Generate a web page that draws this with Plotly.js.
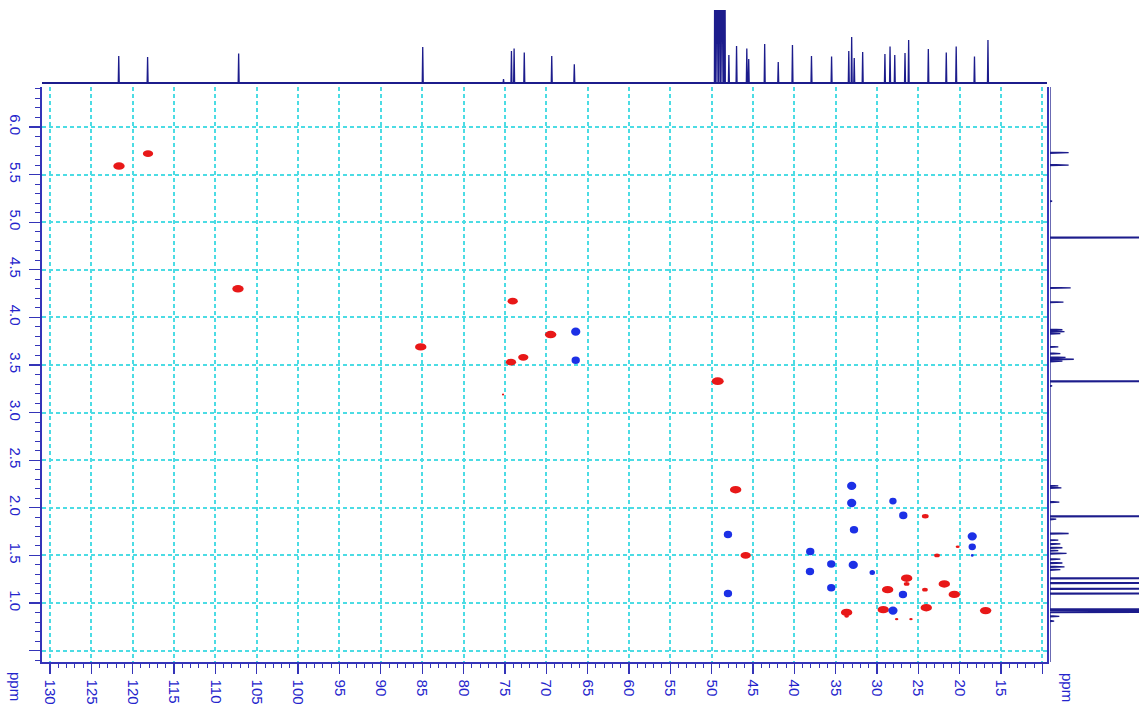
<!DOCTYPE html>
<html>
<head>
<meta charset="utf-8">
<script src="https://cdn.plot.ly/plotly-3.0.1.min.js"></script>
<style>html,body{margin:0;padding:0;background:#fff;}#plot{width:1139px;height:707px;}</style>
</head>
<body>
<div id="plot"></div>
<script>
// ---- 13C projection (top): peak positions (ppm) and heights (px-like units)
const C13_PPM = [121.69,118.20,107.19,84.93,75.16,74.20,73.88,72.65,69.33,66.6,
  49.6,49.4,49.2,49.0,48.8,48.6,48.4,
  47.91,46.98,45.74,45.51,43.58,41.94,40.22,37.92,35.49,33.41,33.06,32.75,31.73,
  29.04,28.42,27.85,26.61,26.17,23.79,21.62,20.42,18.21,16.58];
const C13_INT = [28,27,30.5,37,5,33,35.6,31.5,28,19.7,
  200,200,200,200,200,200,200,
  29,38,35.6,25,40,22,39,28,27.5,33,47,26,32,
  30,37.6,29,31,44,35,31.5,37.6,27.5,44];

// ---- 1H projection (right): positions (ppm) and heights
const H1_PPM = [5.73,5.60,5.22,4.84,4.31,4.16,3.87,3.85,3.83,3.69,3.62,3.58,3.56,3.54,3.33,3.28,
  2.23,2.21,2.06,1.91,1.88,1.73,1.66,1.62,1.58,1.55,1.52,1.46,1.42,1.38,1.35,
  1.26,1.21,1.15,1.10,0.935,0.92,0.905,0.86,0.81];
const H1_INT = [18,18,2,200,20,13,12,14,10,8,10,15,23,12,200,2,
  8,11,9,200,6,18,8,10,12,8,16,10,12,14,10,
  200,200,200,200,200,200,200,9,4];

// ---- HSQC cross peaks: positive phase (red)
const RED_C = [121.66,118.15,107.27,85.17,74.05,69.46,72.77,74.26,49.26,75.22,
  47.09,45.88,24.16,22.74,20.24,26.41,26.41,28.71,21.86,20.65,24.20,
  33.67,33.67,29.24,24.04,16.86,27.62,25.89];
const RED_H = [5.59,5.72,4.30,3.69,4.17,3.82,3.58,3.53,3.33,3.19,
  2.19,1.50,1.91,1.50,1.59,1.26,1.20,1.14,1.20,1.09,1.14,
  0.90,0.86,0.93,0.95,0.92,0.83,0.83];
const RED_I = [1,0.9,1,1,0.9,1,0.9,0.9,1.05,0.2,
  1,0.9,0.6,0.5,0.35,1,0.5,1,1,1,0.5,
  1,0.4,1,1,1,0.3,0.3];

// ---- HSQC cross peaks: negative phase (blue)
const BLUE_C = [66.43,66.43,33.06,33.06,28.07,26.82,32.78,48.02,18.48,18.48,
  38.07,35.53,32.87,38.10,30.57,35.53,48.02,26.86,28.07,18.48];
const BLUE_H = [3.85,3.55,2.23,2.05,2.07,1.92,1.77,1.72,1.70,1.59,
  1.54,1.41,1.40,1.33,1.32,1.16,1.10,1.09,0.92,1.50];
const BLUE_I = [1,0.9,1,1,0.8,0.9,0.9,0.9,1,0.8,
  0.9,0.9,1,0.9,0.6,0.9,0.9,0.9,1,0.3];

// ---- tick labels
const X_TICKS = [10,15,20,25,30,35,40,45,50,55,60,65,70,75,80,85,90,95,100,105,110,115,120,125,130];
const X_TICKTEXT = ['','15','20','25','30','35','40','45','50','55','60','65','70','75','80','85','90','95','100','105','110','115','120','125','130'];
const Y_TICKS = [0.5,1.0,1.5,2.0,2.5,3.0,3.5,4.0,4.5,5.0,5.5,6.0];
const Y_TICKTEXT = ['','1.0','1.5','2.0','2.5','3.0','3.5','4.0','4.5','5.0','5.5','6.0'];

// ---- styling / geometry constants
const XR = [130.97, 9.44];
const YR = [0.38, 6.42];
const SPEC = '#1c1c8c';
const AXC = '#3434b8';
const LBL = '#2424cc';
const GRID = '#4cdce4';
const RED = '#e81818';
const BLUE = '#1c30e6';
const RW = 1.38, RH = 0.078, BW = 1.12, BH = 0.088;

function sticks(pos, inten, lo, hi, half) {
  const idx = pos.map((p, i) => i).sort((a, b) => pos[a] - pos[b]);
  const a = [lo], b = [0];
  idx.forEach(i => {
    a.push(pos[i] - half, pos[i], pos[i] + half);
    b.push(0, inten[i], 0);
  });
  a.push(hi); b.push(0);
  return [a, b];
}

const [cx, cy] = sticks(C13_PPM, C13_INT, XR[1], XR[0], 0.06);
const [hy, hx] = sticks(H1_PPM, H1_INT, YR[0], YR[1], 0.006);

const traces = [
  {x: cx, y: cy, xaxis: 'x3', yaxis: 'y2', mode: 'lines', line: {color: SPEC, width: 1.3}, hoverinfo: 'skip'},
  {x: [XR[1], XR[0]], y: [0.8, 0.8], xaxis: 'x3', yaxis: 'y2', mode: 'lines', line: {color: SPEC, width: 2.6}, hoverinfo: 'skip'},
  {x: hx, y: hy, xaxis: 'x2', yaxis: 'y3', mode: 'lines', line: {color: SPEC, width: 1.3}, hoverinfo: 'skip'},
  {x: [RED_C[0]], y: [RED_H[0]], xaxis: 'x', yaxis: 'y', mode: 'markers', marker: {size: 1, color: 'rgba(0,0,0,0)'}, hoverinfo: 'skip'}
];

const shapes = [];
RED_C.forEach((c, i) => {
  const s = RED_I[i];
  shapes.push({type: 'circle', xref: 'x', yref: 'y', x0: c - RW * s / 2, x1: c + RW * s / 2,
    y0: RED_H[i] - RH * Math.max(s, 0.3) / 2, y1: RED_H[i] + RH * Math.max(s, 0.3) / 2,
    fillcolor: RED, line: {width: 0}});
});
BLUE_C.forEach((c, i) => {
  const s = BLUE_I[i];
  shapes.push({type: 'circle', xref: 'x', yref: 'y', x0: c - BW * s / 2, x1: c + BW * s / 2,
    y0: BLUE_H[i] - BH * Math.max(s, 0.3) / 2, y1: BLUE_H[i] + BH * Math.max(s, 0.3) / 2,
    fillcolor: BLUE, line: {width: 0}});
});

const W = 1139, H = 707, ML = 42, MB = 45;
const PW = W - ML, PH = H - MB;
const xdomEnd = (1047 - ML) / PW;
const ydomEnd = (PH - 87) / PH;

const tickFont = {family: 'Liberation Sans, Arial, sans-serif', size: 15, color: LBL};
const hidden = {visible: false, showgrid: false, zeroline: false, fixedrange: true};

const layout = {
  width: W, height: H,
  margin: {l: ML, r: 0, t: 0, b: MB, pad: 0},
  paper_bgcolor: '#fff', plot_bgcolor: '#fff',
  showlegend: false,
  xaxis: {
    domain: [0, xdomEnd], range: XR, anchor: 'y',
    tickmode: 'array', tickvals: X_TICKS, ticktext: X_TICKTEXT,
    tickangle: 90, tickfont: tickFont,
    ticks: 'outside', ticklen: 10, tickwidth: 1.3, tickcolor: AXC,
    ticklabelstandoff: 3,
    showline: true, linecolor: AXC, linewidth: 1.6,
    showgrid: true, gridcolor: GRID, gridwidth: 2, griddash: '4px,3px',
    zeroline: false,
    minor: {tickmode: 'linear', tick0: 0, dtick: 1, ticks: 'outside', ticklen: 4, tickwidth: 1, tickcolor: AXC, showgrid: false}
  },
  yaxis: {
    domain: [0, ydomEnd], range: YR, anchor: 'x',
    tickmode: 'array', tickvals: Y_TICKS, ticktext: Y_TICKTEXT,
    tickangle: 90, tickfont: tickFont,
    ticks: 'outside', ticklen: 11, tickwidth: 1.3, tickcolor: AXC,
    ticklabelstandoff: 1,
    showline: true, linecolor: AXC, linewidth: 1.6, mirror: true,
    showgrid: true, gridcolor: GRID, gridwidth: 2, griddash: '4px,3px',
    zeroline: false,
    minor: {tickmode: 'linear', tick0: 0, dtick: 0.1, ticks: 'outside', ticklen: 5, tickwidth: 1, tickcolor: AXC, showgrid: false}
  },
  xaxis3: Object.assign({domain: [0, xdomEnd], range: XR, anchor: 'y2'}, hidden),
  yaxis2: Object.assign({domain: [(PH - 84) / PH, (PH - 10) / PH], range: [0, 74], anchor: 'x3'}, hidden),
  xaxis2: Object.assign({domain: [(1050 - ML) / PW, 1], range: [0, 86], anchor: 'y3'}, hidden),
  yaxis3: Object.assign({domain: [0, ydomEnd], range: YR, anchor: 'x2'}, hidden),
  shapes: shapes,
  annotations: [
    {text: 'ppm', xref: 'paper', yref: 'paper', x: (16 - ML) / PW, y: (PH - 686) / PH,
     xanchor: 'center', yanchor: 'middle', showarrow: false, textangle: 90, font: tickFont},
    {text: 'ppm', xref: 'paper', yref: 'paper', x: (1068 - ML) / PW, y: (PH - 687) / PH,
     xanchor: 'center', yanchor: 'middle', showarrow: false, textangle: 90, font: tickFont}
  ]
};

Plotly.newPlot('plot', traces, layout, {displayModeBar: false, staticPlot: true});
</script>
</body>
</html>
